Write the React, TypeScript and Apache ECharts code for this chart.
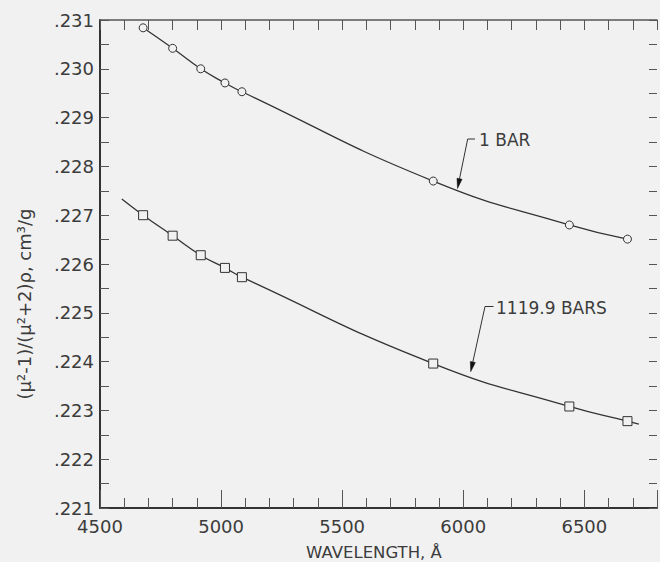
import React, { useEffect, useRef } from "react";
import * as echarts from "echarts";

// Wavelengths (Å) of the measured lines
const wavelengths = [4678, 4800, 4916, 5016, 5086, 5876, 6438, 6678];
// (μ²-1)/(μ²+2)ρ at 1 bar, cm³/g
const values1Bar = [0.23084, 0.23042, 0.23, 0.22971, 0.22953, 0.2277, 0.2268, 0.22651];
// (μ²-1)/(μ²+2)ρ at 1119.9 bars, cm³/g
const values1119Bars = [0.227, 0.22658, 0.22618, 0.22592, 0.22573, 0.22396, 0.22308, 0.22278];
// where the drawn 1119.9-bar curve starts and ends beyond the points
const curve1119Start = [4590, 0.22733];
const curve1119End = [6725, 0.22272];

const xTickLabels = [4500, 5000, 5500, 6000, 6500];
const yTickLabels = [".221", ".222", ".223", ".224", ".225", ".226", ".227", ".228", ".229", ".230", ".231"];

const FONT = "'DejaVu Sans', sans-serif";
const INK = "#333";
const TXT = "#3c3c3c";
const BG = "#f1f1f1";

function arrowHead(from: number[], tip: number[], len: number, half: number) {
  const dx = tip[0] - from[0];
  const dy = tip[1] - from[1];
  const l = Math.sqrt(dx * dx + dy * dy);
  const ux = dx / l;
  const uy = dy / l;
  const bx = tip[0] - ux * len;
  const by = tip[1] - uy * len;
  return {
    base: [bx, by],
    pts: [
      [tip[0], tip[1]],
      [bx + -uy * half, by + ux * half],
      [bx - -uy * half, by - ux * half],
    ],
  };
}

function leader(textStart: number[], corner: number[], tip: number[]) {
  const a = arrowHead(corner, tip, 10, 2.6);
  return [
    {
      type: "polyline",
      shape: { points: [textStart, corner, a.base] },
      style: { stroke: INK, lineWidth: 1, fill: null },
      silent: true,
    },
    {
      type: "polygon",
      shape: { points: a.pts },
      style: { fill: "#111", stroke: "#111", lineWidth: 0.5 },
      silent: true,
    },
  ];
}

export default function App() {
  const ref = useRef<HTMLDivElement>(null);
  useEffect(() => {
    if (!ref.current) return;
    const chart = echarts.init(ref.current, undefined, { renderer: "svg" });
    const upper = wavelengths.map((w, i) => [w, values1Bar[i]]);
    const lower: any[] = [
      { value: curve1119Start, symbol: "none" },
      ...wavelengths.map((w, i) => [w, values1119Bars[i]]),
      { value: curve1119End, symbol: "none" },
    ];
    const xMin = 4500;
    const xMax = 6800;
    const yMin = 0.221;
    const yMax = 0.231;
    const option: any = {
      animation: false,
      backgroundColor: BG,
      grid: { left: 100, top: 20, right: 0, bottom: 54 },
      xAxis: [
        {
          type: "value",
          position: "bottom",
          min: xMin,
          max: xMax,
          interval: 500,
          axisLine: { lineStyle: { color: INK, width: 2 } },
          axisTick: { inside: true, length: 18, lineStyle: { color: "#555", width: 1 } },
          axisLabel: {
            formatter: (v: number) => (xTickLabels.indexOf(Math.round(v)) >= 0 ? String(Math.round(v)) : ""),
            fontSize: 18,
            color: TXT,
            fontFamily: FONT,
            margin: 9,
          },
          splitLine: { show: false },
        },
        {
          type: "value",
          position: "bottom",
          min: xMin,
          max: xMax,
          interval: 100,
          axisLine: { show: false },
          axisTick: { inside: true, length: 10, lineStyle: { color: "#555", width: 1 } },
          axisLabel: { show: false },
          splitLine: { show: false },
        },
        {
          type: "value",
          position: "top",
          min: xMin,
          max: xMax,
          interval: 100,
          axisLine: { lineStyle: { color: "#555", width: 1.5 } },
          axisTick: { inside: true, length: 10, lineStyle: { color: "#555", width: 1 } },
          axisLabel: { show: false },
          splitLine: { show: false },
        },
      ],
      yAxis: [
        {
          type: "value",
          position: "left",
          min: yMin,
          max: yMax,
          interval: 0.001,
          axisLine: { show: true, lineStyle: { color: INK, width: 2 } },
          axisTick: { inside: true, length: 9, lineStyle: { color: "#555", width: 1 } },
          minorTick: { show: true, splitNumber: 2, length: 9, lineStyle: { color: "#555", width: 1 } },
          axisLabel: {
            formatter: (v: number) => {
              const k = Math.round((v - yMin) / 0.001);
              return yTickLabels[k] ?? "";
            },
            fontSize: 18,
            color: TXT,
            fontFamily: FONT,
            margin: 6,
          },
          splitLine: { show: false },
        },
        {
          type: "value",
          position: "right",
          min: yMin,
          max: yMax,
          interval: 0.0005,
          axisLine: { show: false },
          axisTick: { inside: true, length: 8, lineStyle: { color: "#555", width: 1 } },
          axisLabel: { show: false },
          splitLine: { show: false },
        },
      ],
      series: [
        {
          name: "1 BAR",
          type: "line",
          xAxisIndex: 0,
          yAxisIndex: 0,
          data: upper,
          smooth: 0.5,
          symbol: "circle",
          symbolSize: 8,
          itemStyle: { color: BG, borderColor: INK, borderWidth: 1 },
          lineStyle: { color: INK, width: 1.3 },
          z: 3,
        },
        {
          name: "1119.9 BARS",
          type: "line",
          xAxisIndex: 0,
          yAxisIndex: 0,
          data: lower,
          smooth: 0.5,
          symbol: "rect",
          symbolSize: 9,
          itemStyle: { color: BG, borderColor: INK, borderWidth: 1 },
          lineStyle: { color: INK, width: 1.3 },
          z: 3,
        },
      ],
      graphic: [
        {
          type: "text",
          x: 374,
          y: 552,
          style: {
            text: "WAVELENGTH, Å",
            font: `16.5px ${FONT}`,
            fill: TXT,
            align: "center",
            verticalAlign: "middle",
          },
        },
        {
          type: "text",
          x: 24,
          y: 304,
          rotation: Math.PI / 2,
          style: {
            text: "(μ²-1)/(μ²+2)ρ, cm³/g",
            font: `18px ${FONT}`,
            fill: TXT,
            align: "center",
            verticalAlign: "middle",
          },
        },
        {
          type: "text",
          x: 479,
          y: 140,
          style: { text: "1 BAR", font: `17px ${FONT}`, fill: TXT, align: "left", verticalAlign: "middle" },
        },
        ...leader([475, 139], [467.7, 139], [457.5, 188.5]),
        {
          type: "text",
          x: 496,
          y: 308,
          style: { text: "1119.9 BARS", font: `17px ${FONT}`, fill: TXT, align: "left", verticalAlign: "middle" },
        },
        ...leader([493.5, 306.5], [485, 306.5], [470.7, 371.7]),
      ],
    };
    chart.setOption(option);
    return () => chart.dispose();
  }, []);
  return (
    <div
      ref={ref}
      style={{ position: "fixed", left: 0, top: 0, width: 660, height: 562, background: BG }}
    />
  );
}
